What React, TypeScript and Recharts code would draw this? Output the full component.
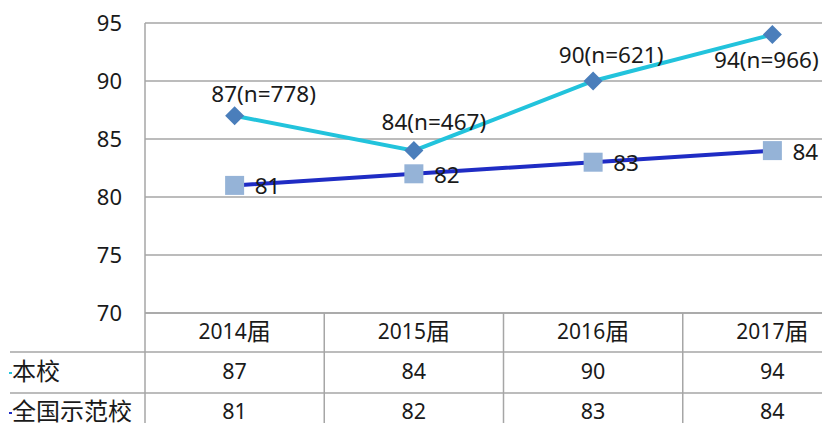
import React from 'react';
import { LineChart, Line, XAxis, YAxis, CartesianGrid, LabelList } from 'recharts';

const years = ['2014届', '2015届', '2016届', '2017届'];
const schoolScores = [87, 84, 90, 94];
const schoolCounts = [778, 467, 621, 966];
const nationalScores = [81, 82, 83, 84];
const yTicks = [70, 75, 80, 85, 90, 95];
const rowNames = ['本校', '全国示范校'];

const data = years.map((year, i) => ({
  year,
  school: schoolScores[i],
  national: nationalScores[i],
  label: `${schoolScores[i]}(n=${schoolCounts[i]})`,
}));

const FONT = "'Noto Sans', 'Noto Sans CJK SC', sans-serif";
const CJK_FONT = "'Noto Sans CJK SC', 'Noto Sans', sans-serif";
const CHART_W = 862;
const CHART_H = 440;
const Y_AXIS_W = 145;
const BAND = (CHART_W - Y_AXIS_W) / years.length;
const GRID = '#a6a6a6';
const TEXT = '#1a1a1a';

const SCHOOL_LINE = '#22c3dc';
const SCHOOL_DOT = '#4a7ebb';
const NATIONAL_LINE = '#1f2cc4';
const NATIONAL_DOT = '#95b3d7';

// label nudges per point, the last one drops below the diamond (no room above)
const SCHOOL_LABEL_SHIFT = [
  { dx: 29, dy: -20 },
  { dx: 20, dy: -27 },
  { dx: 18, dy: -24 },
  { dx: -6, dy: 27 },
];

const Diamond = (props: any) => {
  const { cx, cy } = props;
  if (cx == null || cy == null) return null;
  const r = 9.5;
  return (
    <polygon
      points={`${cx},${cy - r} ${cx + r},${cy} ${cx},${cy + r} ${cx - r},${cy}`}
      fill={SCHOOL_DOT}
    />
  );
};

const Square = (props: any) => {
  const { cx, cy } = props;
  if (cx == null || cy == null) return null;
  const r = 9.5;
  return <rect x={cx - r} y={cy - r} width={r * 2} height={r * 2} fill={NATIONAL_DOT} />;
};

const SchoolLabel = (props: any) => {
  const { x, y, value, index } = props;
  const s = SCHOOL_LABEL_SHIFT[index] || { dx: 0, dy: -20 };
  return (
    <text x={x + s.dx} y={y + s.dy} textAnchor="middle" dominantBaseline="middle" fontSize={22.5} fontFamily={FONT} fill={TEXT}>
      {value}
    </text>
  );
};

const NationalLabel = (props: any) => {
  const { x, y, value } = props;
  return (
    <text x={x + 20} y={y + 3} textAnchor="start" dominantBaseline="middle" fontSize={22.5} fontFamily={FONT} fill={TEXT}>
      {value}
    </text>
  );
};

// x-axis tick doubles as one column of the data table under the plot
const TableTick = (props: any) => {
  const { x, y, index, payload } = props;
  const left = x - BAND / 2;
  const right = x + BAND / 2;
  const row1 = y + 39;
  const row2 = y + 80;
  const bottom = CHART_H;
  const label = String(payload.value);
  return (
    <g>
      <line x1={right} y1={y} x2={right} y2={bottom} stroke={GRID} strokeWidth={1.5} />
      <line x1={left} y1={row1} x2={right} y2={row1} stroke={GRID} strokeWidth={1.5} />
      <line x1={left} y1={row2} x2={right} y2={row2} stroke={GRID} strokeWidth={1.5} />
      <text x={x} y={y + 20} textAnchor="middle" dominantBaseline="middle" fontSize={21} fontFamily={FONT} fill={TEXT}>
        {label.slice(0, 4)}
        <tspan fontSize={24} fontFamily={CJK_FONT}>{label.slice(4)}</tspan>
      </text>
      <text x={x} y={row1 + 21} textAnchor="middle" dominantBaseline="middle" fontSize={21.5} fontFamily={FONT} fill={TEXT}>
        {schoolScores[index]}
      </text>
      <text x={x} y={row2 + 20} textAnchor="middle" dominantBaseline="middle" fontSize={21.5} fontFamily={FONT} fill={TEXT}>
        {nationalScores[index]}
      </text>
      {index === 0 && (
        <g>
          <line x1={left} y1={y} x2={left} y2={bottom} stroke={GRID} strokeWidth={1.5} />
          <line x1={10} y1={row1} x2={left} y2={row1} stroke={GRID} strokeWidth={1.5} />
          <line x1={10} y1={row2} x2={left} y2={row2} stroke={GRID} strokeWidth={1.5} />
          <line x1={9} y1={row1 + 21} x2={12} y2={row1 + 21} stroke={SCHOOL_LINE} strokeWidth={2} />
          <line x1={9} y1={row2 + 20} x2={12} y2={row2 + 20} stroke={NATIONAL_LINE} strokeWidth={2} />
          <text x={12} y={row1 + 21} dominantBaseline="middle" fontSize={24} fontFamily={CJK_FONT} fill={TEXT}>
            {rowNames[0]}
          </text>
          <text x={12} y={row2 + 20} dominantBaseline="middle" fontSize={24} fontFamily={CJK_FONT} fill={TEXT}>
            {rowNames[1]}
          </text>
        </g>
      )}
    </g>
  );
};

export default function App() {
  return (
    <div style={{ position: 'fixed', left: 0, top: 0, width: 822, height: 423, overflow: 'hidden', background: '#fff' }}>
      <LineChart width={CHART_W} height={CHART_H} data={data} margin={{ top: 23, right: 0, left: 0, bottom: 0 }}>
        <CartesianGrid vertical={false} stroke={GRID} strokeWidth={1.5} />
        <XAxis
          dataKey="year"
          height={CHART_H - 313}
          padding={{ left: BAND / 2, right: BAND / 2 }}
          axisLine={{ stroke: GRID, strokeWidth: 1.5 }}
          tickLine={false}
          tickSize={0}
          tickMargin={0}
          interval={0}
          tick={<TableTick />}
        />
        <YAxis
          domain={[70, 95]}
          ticks={yTicks}
          width={Y_AXIS_W}
          axisLine={{ stroke: GRID, strokeWidth: 1.5 }}
          tickLine={false}
          tickSize={0}
          tickMargin={23}
          tick={{ fontSize: 22, fontFamily: FONT, fill: TEXT }}
        />
        <Line
          dataKey="national"
          stroke={NATIONAL_LINE}
          strokeWidth={4}
          dot={<Square />}
          isAnimationActive={false}
        >
          <LabelList dataKey="national" content={<NationalLabel />} />
        </Line>
        <Line
          dataKey="school"
          stroke={SCHOOL_LINE}
          strokeWidth={4}
          dot={<Diamond />}
          isAnimationActive={false}
        >
          <LabelList dataKey="label" content={<SchoolLabel />} />
        </Line>
      </LineChart>
    </div>
  );
}
